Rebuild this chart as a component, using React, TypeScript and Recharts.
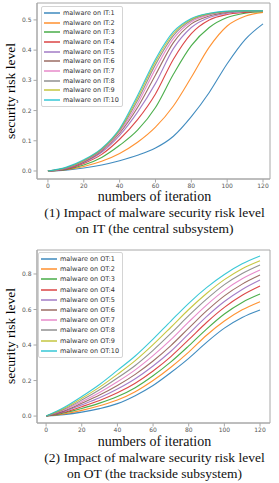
import { LineChart, Line, XAxis, YAxis, Legend, ReferenceArea } from "recharts";

const iterations = [0, 10, 20, 30, 40, 50, 60, 70, 80, 90, 100, 110, 120];

// IT (central subsystem)
const itRisk1 = [0, 0.003, 0.01, 0.02, 0.034, 0.052, 0.076, 0.115, 0.18, 0.26, 0.355, 0.435, 0.487];
const itRisk2 = [0, 0.004, 0.015, 0.032, 0.058, 0.095, 0.145, 0.215, 0.31, 0.41, 0.48, 0.512, 0.525];
const itRisk3 = [0, 0.005, 0.02, 0.045, 0.085, 0.135, 0.21, 0.32, 0.415, 0.475, 0.508, 0.522, 0.528];
const itRisk4 = [0, 0.006, 0.025, 0.055, 0.105, 0.17, 0.255, 0.37, 0.455, 0.5, 0.518, 0.525, 0.53];
const itRisk5 = [0, 0.007, 0.028, 0.062, 0.118, 0.195, 0.29, 0.405, 0.475, 0.508, 0.522, 0.528, 0.53];
const itRisk6 = [0, 0.008, 0.03, 0.066, 0.125, 0.21, 0.318, 0.425, 0.487, 0.513, 0.525, 0.529, 0.53];
const itRisk7 = [0, 0.009, 0.032, 0.068, 0.13, 0.222, 0.338, 0.438, 0.494, 0.517, 0.527, 0.53, 0.53];
const itRisk8 = [0, 0.01, 0.034, 0.071, 0.134, 0.233, 0.352, 0.448, 0.499, 0.519, 0.528, 0.53, 0.53];
const itRisk9 = [0, 0.011, 0.035, 0.073, 0.137, 0.242, 0.362, 0.455, 0.502, 0.521, 0.528, 0.53, 0.53];
const itRisk10 = [0, 0.012, 0.037, 0.075, 0.14, 0.25, 0.37, 0.461, 0.505, 0.522, 0.529, 0.53, 0.53];

// OT (trackside subsystem)
const otRisk1 = [0, 0.008, 0.022, 0.042, 0.07, 0.115, 0.172, 0.245, 0.325, 0.415, 0.495, 0.555, 0.597];
const otRisk2 = [0, 0.012, 0.032, 0.058, 0.09, 0.137, 0.2, 0.275, 0.36, 0.455, 0.535, 0.598, 0.644];
const otRisk3 = [0, 0.017, 0.043, 0.073, 0.11, 0.16, 0.227, 0.305, 0.395, 0.49, 0.575, 0.64, 0.687];
const otRisk4 = [0, 0.021, 0.053, 0.088, 0.131, 0.185, 0.254, 0.335, 0.43, 0.527, 0.612, 0.68, 0.732];
const otRisk5 = [0, 0.025, 0.063, 0.103, 0.152, 0.21, 0.282, 0.365, 0.463, 0.56, 0.645, 0.713, 0.766];
const otRisk6 = [0, 0.029, 0.072, 0.118, 0.172, 0.235, 0.31, 0.397, 0.495, 0.592, 0.677, 0.743, 0.794];
const otRisk7 = [0, 0.034, 0.081, 0.133, 0.193, 0.26, 0.34, 0.43, 0.53, 0.625, 0.708, 0.773, 0.822];
const otRisk8 = [0, 0.038, 0.09, 0.148, 0.214, 0.285, 0.37, 0.465, 0.565, 0.658, 0.74, 0.803, 0.851];
const otRisk9 = [0, 0.043, 0.1, 0.163, 0.235, 0.312, 0.402, 0.5, 0.6, 0.69, 0.768, 0.83, 0.875];
const otRisk10 = [0, 0.048, 0.11, 0.178, 0.257, 0.338, 0.433, 0.535, 0.635, 0.723, 0.797, 0.857, 0.901];

const itSeries = [itRisk1, itRisk2, itRisk3, itRisk4, itRisk5, itRisk6, itRisk7, itRisk8, itRisk9, itRisk10];
const otSeries = [otRisk1, otRisk2, otRisk3, otRisk4, otRisk5, otRisk6, otRisk7, otRisk8, otRisk9, otRisk10];

const itNames = itSeries.map((_, i) => `malware on IT:${i + 1}`);
const otNames = otSeries.map((_, i) => `malware on OT:${i + 1}`);

const xTicks = [0, 20, 40, 60, 80, 100, 120];
const itYTicks = [0, 0.1, 0.2, 0.3, 0.4, 0.5];
const otYTicks = [0, 0.2, 0.4, 0.6, 0.8];

const colors = [
  "#1f77b4", "#ff7f0e", "#2ca02c", "#d62728", "#9467bd",
  "#8c564b", "#e377c2", "#7f7f7f", "#bcbd22", "#17becf",
];

const toRows = (series: number[][]) =>
  iterations.map((it, i) => {
    const row: Record<string, number> = { it };
    series.forEach((s, k) => (row[`s${k + 1}`] = s[i]));
    return row;
  });

const spine = "#a8a8a8";
const tickFont = { fontSize: 6, fill: "#555", fontFamily: "DejaVu Sans" };

function LegendBox(props: any) {
  const { payload, rowH, names } = props;
  const items = [...(payload || [])].sort(
    (a: any, b: any) => names.indexOf(a.value) - names.indexOf(b.value)
  );
  return (
    <div
      style={{
        border: "1px solid #d4d4d4",
        borderRadius: 2,
        background: "#fff",
        padding: "1px 3px 1px 2px",
        fontFamily: "DejaVu Sans",
        fontSize: 6.5,
        color: "#333",
      }}
    >
      {items.map((p: any) => (
        <div key={p.value} style={{ display: "flex", alignItems: "center", height: rowH }}>
          <svg width={16} height={4}>
            <line x1={0} y1={2} x2={16} y2={2} stroke={p.color} strokeWidth={1.3} />
          </svg>
          <span style={{ marginLeft: 3, whiteSpace: "nowrap" }}>{p.value}</span>
        </div>
      ))}
    </div>
  );
}

function Panel(props: {
  series: number[][];
  names: string[];
  xDomain: [number, number];
  yDomain: [number, number];
  yTicks: number[];
  plotH: number;
  rowH: number;
  legendLeft: number;
  legendTop: number;
}) {
  const { series, names, xDomain, yDomain, yTicks, plotH, rowH, legendLeft, legendTop } = props;
  const data = toRows(series);
  return (
    <LineChart width={279} height={plotH + 15} data={data} margin={{ top: 3, right: 9, bottom: 0, left: 0 }}>
      <XAxis
        dataKey="it"
        type="number"
        domain={xDomain}
        ticks={xTicks}
        allowDataOverflow
        height={12}
        tickSize={3.5}
        tickMargin={1}
        stroke={spine}
        tick={tickFont}
      />
      <YAxis
        type="number"
        domain={yDomain}
        ticks={yTicks}
        allowDataOverflow
        width={37}
        tickSize={3.5}
        tickMargin={2}
        stroke={spine}
        tick={tickFont}
        tickFormatter={(v: number) => v.toFixed(1)}
      />
      <ReferenceArea
        x1={xDomain[0]}
        x2={xDomain[1]}
        y1={yDomain[0]}
        y2={yDomain[1]}
        fill="none"
        stroke={spine}
        strokeWidth={1}
        ifOverflow="visible"
      />
      <Legend
        layout="horizontal"
        verticalAlign="middle"
        align="center"
        wrapperStyle={{ left: legendLeft, top: legendTop, width: "auto" }}
        content={(p: any) => <LegendBox {...p} rowH={rowH} names={names} />}
      />
      {series.map((_, k) => (
        <Line
          key={k}
          dataKey={`s${k + 1}`}
          name={names[k]}
          type="monotone"
          stroke={colors[k]}
          strokeOpacity={0.85}
          strokeWidth={1.1}
          dot={false}
          isAnimationActive={false}
        />
      ))}
    </LineChart>
  );
}

const serif = "'Liberation Serif', 'Times New Roman', serif";

function YLabel({ cy }: { cy: number }) {
  return (
    <div
      style={{
        position: "absolute",
        left: 11,
        top: cy,
        transform: "translate(-50%, -50%) rotate(-90deg)",
        whiteSpace: "nowrap",
        fontFamily: serif,
        fontSize: 13.5,
        lineHeight: "14px",
      }}
    >
      security risk level
    </div>
  );
}

function Caption({ top, lines }: { top: number; lines: string[] }) {
  return (
    <div
      style={{
        position: "absolute",
        left: 30,
        width: 249,
        top,
        textAlign: "center",
        fontFamily: serif,
        color: "#111",
      }}
    >
      <div style={{ fontSize: 14, lineHeight: "16px" }}>numbers of iteration</div>
      {lines.map((l) => (
        <div key={l} style={{ fontSize: 13.5, lineHeight: "15.5px", whiteSpace: "nowrap" }}>
          {l}
        </div>
      ))}
    </div>
  );
}

export default function App() {
  return (
    <div style={{ position: "absolute", left: 0, top: 0, width: 279, height: 483, background: "#fff", overflow: "hidden" }}>
      <div style={{ position: "absolute", left: 0, top: 0 }}>
        <Panel
          series={itSeries}
          names={itNames}
          xDomain={[-6.1, 123.9]}
          yDomain={[-0.0265, 0.556]}
          yTicks={itYTicks}
          plotH={176}
          rowH={9.7}
          legendLeft={41}
          legendTop={6}
        />
      </div>
      <YLabel cy={91} />
      <Caption
        top={189}
        lines={["(1) Impact of malware security risk level", "on IT (the central subsystem)"]}
      />
      <div style={{ position: "absolute", left: 0, top: 247 }}>
        <Panel
          series={otSeries}
          names={otNames}
          xDomain={[-5.1, 125.6]}
          yDomain={[-0.039, 0.935]}
          yTicks={otYTicks}
          plotH={173}
          rowH={10.2}
          legendLeft={38}
          legendTop={5}
        />
      </div>
      <YLabel cy={336} />
      <Caption
        top={434}
        lines={["(2) Impact of malware security risk level", "on OT (the trackside subsystem)"]}
      />
    </div>
  );
}
